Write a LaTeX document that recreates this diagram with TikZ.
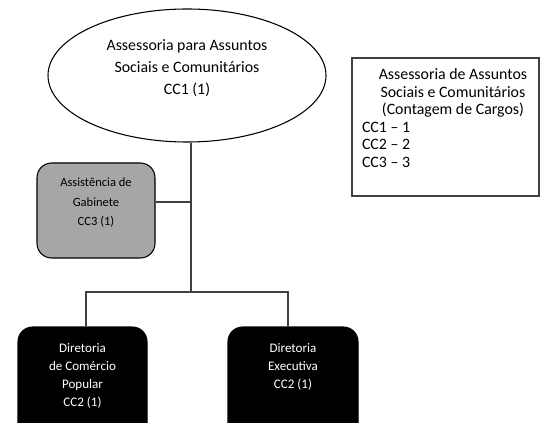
\documentclass[tikz,border=0pt]{standalone}
\usepackage{fontspec}
\setmainfont{Carlito}
\usetikzlibrary{shapes.geometric}
\definecolor{boxgray}{HTML}{A6A6A6}
\definecolor{linegray}{HTML}{404040}
\begin{document}
\begin{tikzpicture}[x=0.75pt,y=-0.75pt,
  outline/.style={draw=black, line width=0.8pt},
  conn/.style={draw=linegray, line width=0.8pt},
  orgbox/.style={rectangle, rounded corners=11pt, inner sep=0pt, line width=0.8pt},
  graybox/.style={orgbox, draw=black, fill=boxgray},
  blackbox/.style={orgbox, draw=black, fill=black, text=white},
  notebox/.style={rectangle, inner sep=0pt, draw=linegray, line width=0.8pt, fill=white}
  ]
\clip (0,0) rectangle (541,423);
\useasboundingbox (0,0) rectangle (541,423);

% top ellipse
\node[ellipse, outline, fill=white, inner sep=0pt, minimum width=208.5pt, minimum height=99.75pt] (top) at (187,75.5)
  {\parbox[c][66pt][t]{130pt}{\centering\fontsize{11.9}{16.5}\selectfont
   \rule{0pt}{13.9pt}Assessoria para Assuntos\\Sociais e Comunitários\\CC1 (1)}};

% gray box
\node[graybox, minimum width=88.5pt, minimum height=71.25pt] (g) at (96,210.5)
  {\parbox[c][71.25pt][t]{88.5pt}{\centering\fontsize{9.4}{14.5}\selectfont
   \rule{0pt}{18pt}Assistência de\\Gabinete\\CC3 (1)}};

% black boxes
\node[blackbox, minimum width=96.75pt, minimum height=84.75pt] (d1) at (82.5,383.5)
  {\parbox[c][84.75pt][t]{96.75pt}{\centering\fontsize{9.8}{13.5}\selectfont
   \rule{0pt}{18.75pt}Diretoria\\de Comércio\\Popular\\CC2 (1)}};
\node[blackbox, minimum width=97.5pt, minimum height=84.75pt] (d2) at (293,383.5)
  {\parbox[c][84.75pt][t]{97.5pt}{\centering\fontsize{9.8}{13.5}\selectfont
   \rule{0pt}{18.75pt}Diretoria\\Executiva\\CC2 (1)}};

% note box
\node[notebox, minimum width=140.25pt, minimum height=103.5pt] (note) at (445.5,127)
  {\parbox[c][103.5pt][t]{140.25pt}{\fontsize{11.9}{13.2}\selectfont
   \rule{0pt}{16.1pt}\hspace*{11.2pt}\makebox[129pt]{Assessoria de Assuntos}\\
   \hspace*{11.2pt}\makebox[129pt]{Sociais e Comunitários}\\
   \hspace*{11.2pt}\makebox[129pt]{(Contagem de Cargos)}\\
   \hspace*{7.5pt}CC1 – 1\\
   \hspace*{7.5pt}CC2 – 2\\
   \hspace*{7.5pt}CC3 – 3}};

% connectors
\coordinate (j) at (191,292);
\coordinate (jg) at (191,202);
\coordinate (jl) at (86,292);
\coordinate (jr) at (288,292);
\draw[conn] (top.south -| j) -- (j);
\draw[conn] (jg -| g.east) -- (jg);
\draw[conn] (jl |- d1.north) -- (jl) -- (jr) -- (jr |- d2.north);
\end{tikzpicture}
\end{document}
